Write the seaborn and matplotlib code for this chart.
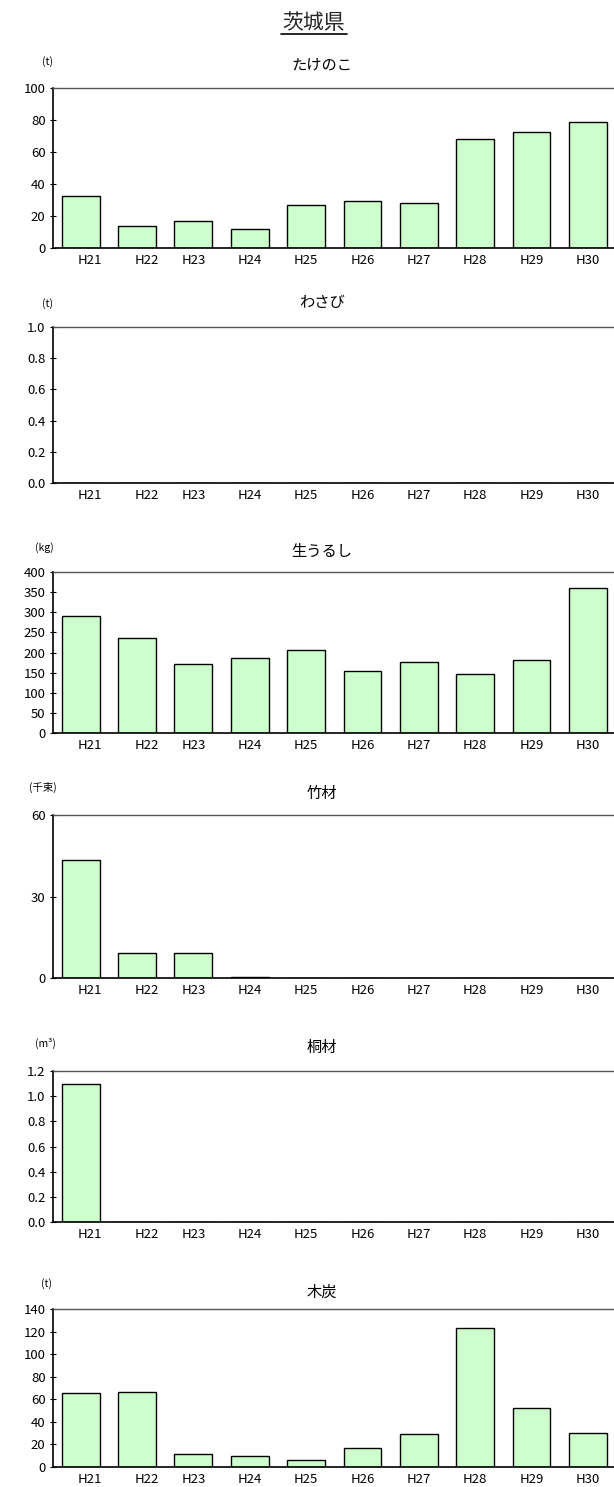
import pandas as pd
import seaborn as sns
import matplotlib.pyplot as plt
from matplotlib.lines import Line2D
from matplotlib.ticker import FormatStrFormatter
from matplotlib.transforms import ScaledTranslation

# -------------------------------
# データ
# -------------------------------
years = ['H21', 'H22', 'H23', 'H24', 'H25', 'H26', 'H27', 'H28', 'H29', 'H30']

takenoko = [32.5, 14, 17, 12, 27, 29.6, 28.2, 68, 72.2, 78.5]       # たけのこ (t)
wasabi = [0, 0, 0, 0, 0, 0, 0, 0, 0, 0]                               # わさび (t)
urushi = [290, 237, 172.5, 187.5, 205, 154, 177.5, 147.5, 182.5, 360]  # 生うるし (kg)
chikuzai = [43.4, 9.1, 9.1, 0.4, 0, 0, 0, 0, 0, 0]                    # 竹材 (千束)
kirizai = [1.1, 0, 0, 0, 0, 0, 0, 0, 0, 0]                            # 桐材 (m3)
mokutan = [65.7, 66.6, 11.2, 9.8, 5.9, 16.9, 29.3, 123.4, 52.7, 30.2]  # 木炭 (t)

titles = ['たけのこ', 'わさび', '生うるし', '竹材', '桐材', '木炭']
units = ['(t)', '(t)', '(kg)', '(千束)', '(m³)', '(t)']
series = [takenoko, wasabi, urushi, chikuzai, kirizai, mokutan]
ymax = [100, 1.0, 400, 60, 1.2, 140]
ystep = [20, 0.2, 50, 30, 0.2, 20]
yfmt = ['%d', '%.1f', '%d', '%d', '%.1f', '%d']

# -------------------------------
# レイアウト (pixels in a 614x1487 canvas)
# -------------------------------
W, H = 614, 1487
ax_top = [88, 327, 572, 815, 1071, 1309]
ax_bot = [248, 483, 733, 978, 1222, 1467]
title_y = [65, 303, 551, 793, 1047, 1292]
unit_y = [62, 304, 548, 787, 1043, 1284]
unit_x = [47, 47, 44, 43, 45, 46]
ax_left, ax_right = 52.5, 616
label_shift_px = [9, 10, 0, 0, 0, 0, 0, 0, 0, 0]

sns.set_theme(style='white')
plt.rcParams['font.family'] = ['Noto Sans CJK JP', 'DejaVu Sans']

fig = plt.figure(figsize=(W / 100, H / 100), dpi=100)

fig.text(314 / W, 1 - 23 / H, '茨城県', fontsize=15, ha='center', va='center')
fig.add_artist(Line2D([281 / W, 347 / W], [1 - 34 / H, 1 - 34 / H],
                      color='black', linewidth=1.2, transform=fig.transFigure))

for i in range(6):
    ax = fig.add_axes([ax_left / W, 1 - ax_bot[i] / H,
                       (ax_right - ax_left) / W, (ax_bot[i] - ax_top[i]) / H])
    df = pd.DataFrame({'year': years, 'value': series[i]})
    sns.barplot(data=df, x='year', y='value', color='#CCFFCC', saturation=1,
                edgecolor='black', linewidth=1, width=0.67, ax=ax)

    ax.set_ylim(0, ymax[i])
    ticks = [k * ystep[i] for k in range(int(round(ymax[i] / ystep[i])) + 1)]
    ax.set_yticks(ticks)
    ax.yaxis.set_major_formatter(FormatStrFormatter(yfmt[i]))
    ax.set_xlabel('')
    ax.set_ylabel('')

    ax.tick_params(axis='y', which='major', direction='inout', length=4,
                   width=0.8, color='black', labelsize=9.5, pad=3, left=True,
                   labelcolor='black')
    ax.tick_params(axis='x', length=0, labelsize=9.5, pad=4, labelcolor='black')

    for lbl, dx in zip(ax.get_xticklabels(), label_shift_px):
        lbl.set_transform(lbl.get_transform() +
                          ScaledTranslation(dx / 100, 0, fig.dpi_scale_trans))

    for side in ['left', 'bottom']:
        ax.spines[side].set_color('black')
        ax.spines[side].set_linewidth(1.2)
    for side in ['top', 'right']:
        ax.spines[side].set_color('#555555')
        ax.spines[side].set_linewidth(1)

    fig.text(322 / W, 1 - title_y[i] / H, titles[i], fontsize=11,
             ha='center', va='center', color='black')
    fig.text(unit_x[i] / W, 1 - unit_y[i] / H, units[i], fontsize=7.5,
             ha='center', va='center', color='black')

fig.savefig('out.png', dpi=100)
